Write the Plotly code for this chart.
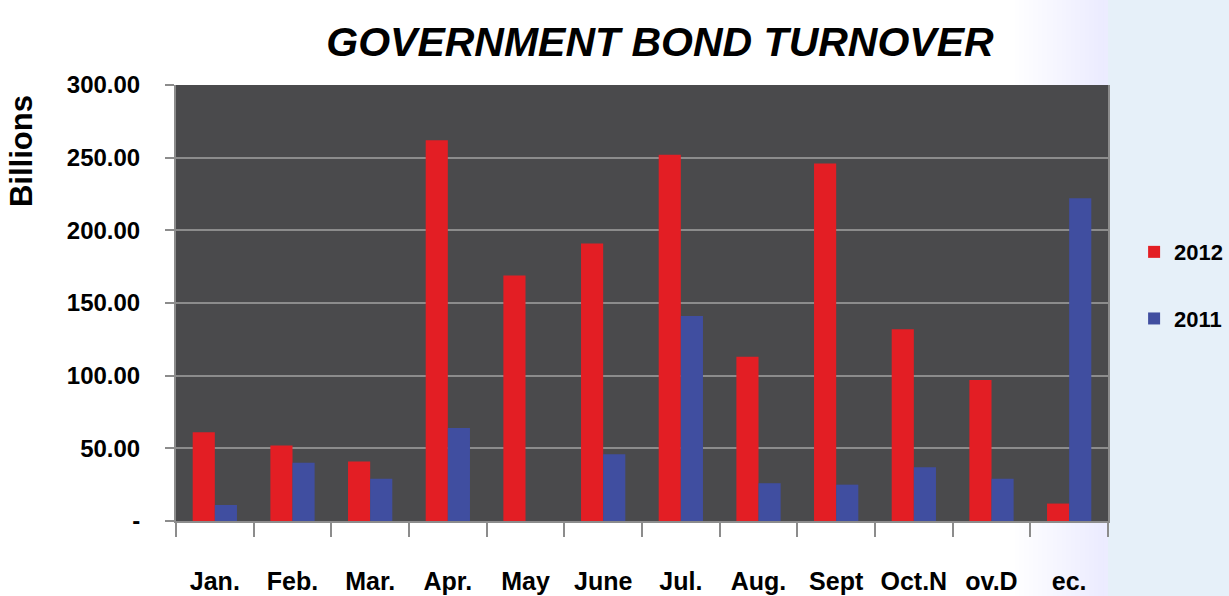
import plotly.graph_objects as go

months = ["Jan.", "Feb.", "Mar.", "Apr.", "May", "June", "Jul.", "Aug.", "Sept", "Oct.N", "ov.D", "ec."]
turnover_2012 = [61, 52, 41, 262, 169, 191, 252, 113, 246, 132, 97, 12]
turnover_2011 = [11, 40, 29, 64, 0, 46, 141, 26, 25, 37, 29, 222]
y_ticks = [0, 50, 100, 150, 200, 250, 300]
y_tick_text = ["-", "50.00", "100.00", "150.00", "200.00", "250.00", "300.00"]

FONT = "Liberation Sans, Arial, Helvetica, sans-serif"
RED = "#e31e24"
BLUE = "#404ea0"
AXIS_GREY = "#8c8c8c"
WASH = "#e6f0f9"

fig = go.Figure()
fig.add_trace(go.Bar(x=months, y=turnover_2012, name="2012", marker_color=RED,
                     marker_line_width=0, legendgroup="a"))
fig.add_trace(go.Bar(x=months, y=turnover_2011, name="2011", marker_color=BLUE,
                     marker_line_width=0, legendgroup="b"))

# pale blue wash on the page to the right of the plot area
shapes = [dict(type="rect", xref="paper", yref="paper", x0=1.0, x1=1.2,
               y0=-0.3, y1=1.3, fillcolor=WASH, line_width=0, layer="below")]
steps = 20
for i in range(steps):
    x0 = 0.90 + i * 0.005
    for y0, y1 in ((1.0, 1.3), (-0.3, 0.0)):
        shapes.append(dict(type="rect", xref="paper", yref="paper", x0=x0, x1=1.0,
                           y0=y0, y1=y1, fillcolor=WASH, opacity=0.05,
                           line_width=0, layer="below"))

fig.update_layout(
    width=1229, height=596,
    margin=dict(l=176, r=121, t=85, b=75, autoexpand=False),
    paper_bgcolor="white",
    plot_bgcolor="#4a4a4c",
    barmode="group",
    bargap=0.43,
    bargroupgap=0,
    shapes=shapes,
    showlegend=True,
    title=dict(text="GOVERNMENT BOND TURNOVER",
               font=dict(family=FONT, size=41, color="black", weight="bold", style="italic"),
               x=0.537, xanchor="center", y=0.93, yanchor="middle"),
    legend=dict(x=1.028, y=0.54, xanchor="left", yanchor="middle",
                font=dict(family=FONT, size=22, color="black", weight="bold"),
                bgcolor="rgba(0,0,0,0)", tracegroupgap=35,
                traceorder="grouped", itemwidth=30),
    xaxis=dict(
        type="category",
        tickson="boundaries",
        ticks="outside", ticklen=14, tickwidth=2, tickcolor=AXIS_GREY,
        showline=True, linecolor=AXIS_GREY, linewidth=2,
        showgrid=False,
        tickangle=0,
        tickfont=dict(family=FONT, size=25, color="black", weight="bold"),
        ticklabelstandoff=37,
        automargin=False,
    ),
    yaxis=dict(
        range=[0, 300],
        tickmode="array", tickvals=y_ticks, ticktext=y_tick_text,
        ticks="outside", ticklen=9, tickwidth=2, tickcolor=AXIS_GREY,
        showline=True, linecolor=AXIS_GREY, linewidth=2, mirror=True,
        showgrid=True, gridcolor=AXIS_GREY, gridwidth=2,
        zeroline=False,
        tickfont=dict(family=FONT, size=24, color="black", weight="bold"),
        ticklabelstandoff=20,
        automargin=False,
    ),
    annotations=[dict(text="Billions", xref="paper", yref="paper",
                      x=-0.165, y=0.849, xanchor="center", yanchor="middle",
                      textangle=-90, showarrow=False,
                      font=dict(family=FONT, size=31, color="black", weight="bold"))],
)

fig.write_html("out.html")
